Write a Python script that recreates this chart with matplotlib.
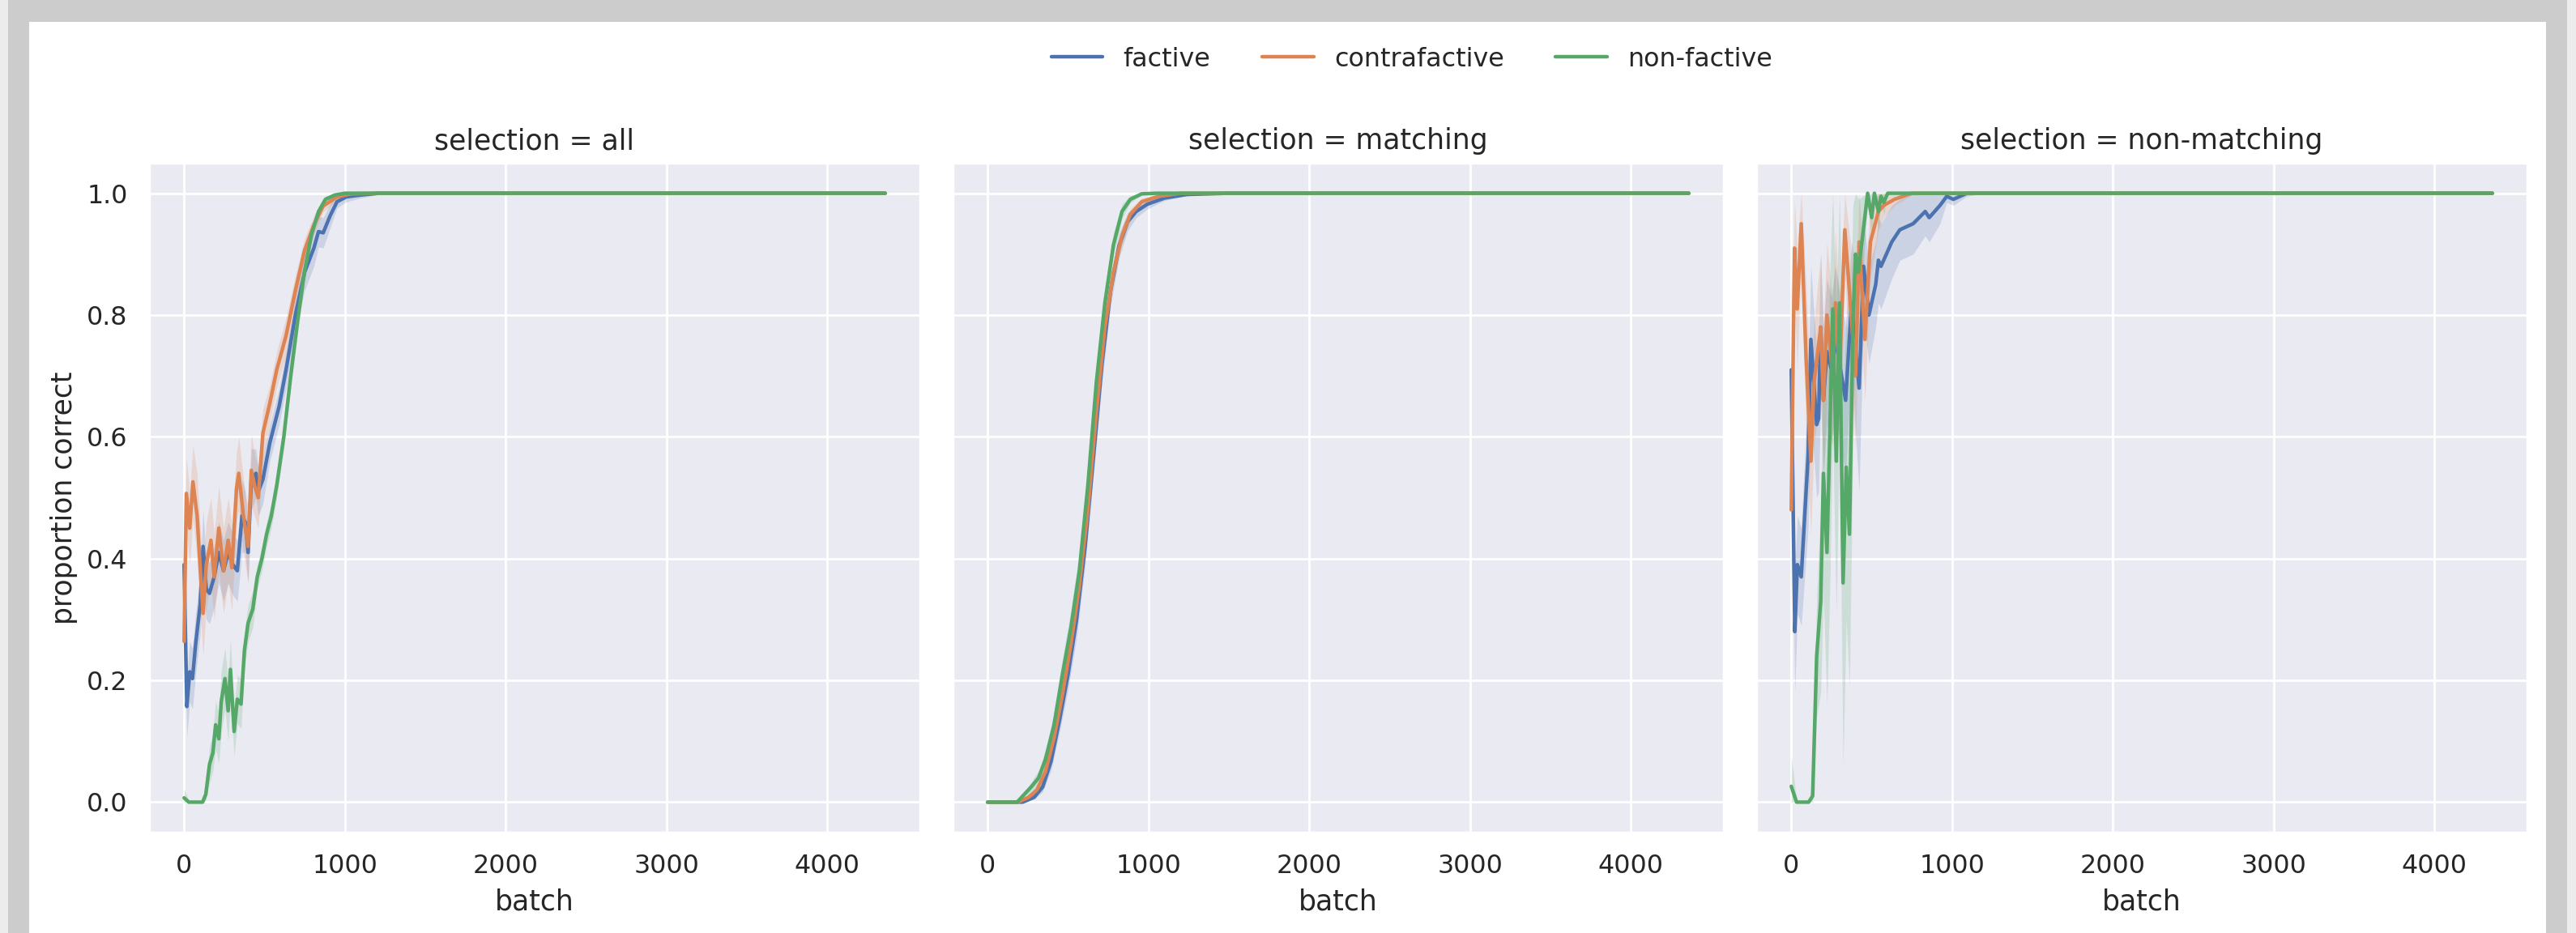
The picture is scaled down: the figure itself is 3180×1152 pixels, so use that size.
import numpy as np
import matplotlib
matplotlib.use("Agg")
import matplotlib.pyplot as plt
import seaborn as sns
from matplotlib.patches import Rectangle, FancyBboxPatch

# ---------------- data ----------------
selections = ["all", "matching", "non-matching"]
conditions = ["factive", "contrafactive", "non-factive"]
colors = ["#4c72b0", "#dd8452", "#55a868"]
xtick_values = [0, 1000, 2000, 3000, 4000]
ytick_values = [0.0, 0.2, 0.4, 0.6, 0.8, 1.0]

# selection = all
all_factive_x = [0, 17, 35, 52, 72, 100, 118, 138, 158, 187, 216, 245, 274, 303, 331, 360, 380, 398, 418, 447,
                 461, 490, 533, 591, 634, 692, 749, 807, 836, 865, 908, 951, 1009, 1095, 1210, 1500, 2000, 3000, 4000, 4360]
all_factive_y = [0.39, 0.157, 0.214, 0.203, 0.26, 0.325, 0.42, 0.35, 0.343, 0.37, 0.41, 0.38, 0.41, 0.39, 0.38, 0.47, 0.46, 0.41, 0.53, 0.54,
                 0.51, 0.53, 0.59, 0.65, 0.71, 0.80, 0.87, 0.91, 0.937, 0.935, 0.963, 0.986, 0.994, 0.997, 1.0, 1.0, 1.0, 1.0, 1.0, 1.0]
all_factive_ci = [0.08, 0.05, 0.05, 0.05, 0.05, 0.05, 0.06, 0.05, 0.05, 0.05, 0.05, 0.05, 0.05, 0.05, 0.05, 0.06, 0.05, 0.05, 0.05, 0.04,
                  0.04, 0.04, 0.03, 0.03, 0.03, 0.03, 0.03, 0.03, 0.025, 0.025, 0.02, 0.01, 0.008, 0.005, 0.002, 0.0, 0.0, 0.0, 0.0, 0.0]

all_contra_x = [0, 14, 35, 55, 81, 101, 118, 138, 167, 187, 216, 245, 274, 297, 326, 340, 369, 398, 418, 438,
                461, 490, 533, 576, 634, 692, 749, 807, 865, 951, 1037, 1200, 1500, 2000, 3000, 4000, 4360]
all_contra_y = [0.264, 0.507, 0.45, 0.526, 0.47, 0.38, 0.31, 0.39, 0.43, 0.37, 0.45, 0.38, 0.43, 0.385, 0.515, 0.54, 0.47, 0.42, 0.545, 0.52,
                0.50, 0.606, 0.655, 0.71, 0.766, 0.84, 0.906, 0.948, 0.979, 0.994, 0.999, 1.0, 1.0, 1.0, 1.0, 1.0, 1.0]
all_contra_ci = [0.12, 0.06, 0.06, 0.06, 0.07, 0.07, 0.07, 0.07, 0.07, 0.07, 0.07, 0.07, 0.07, 0.07, 0.06, 0.06, 0.06, 0.06, 0.06, 0.05,
                 0.05, 0.04, 0.03, 0.03, 0.03, 0.025, 0.02, 0.015, 0.01, 0.005, 0.002, 0.0, 0.0, 0.0, 0.0, 0.0, 0.0]

all_nonf_x = [0, 29, 115, 135, 158, 179, 196, 216, 231, 254, 274, 288, 311, 331, 354, 375, 398, 427, 455, 484,
              513, 542, 576, 620, 663, 706, 749, 793, 836, 879, 937, 1000, 1500, 2000, 3000, 4000, 4360]
all_nonf_y = [0.007, 0.0, 0.0, 0.013, 0.062, 0.081, 0.127, 0.104, 0.165, 0.203, 0.15, 0.218, 0.116, 0.169, 0.161, 0.249, 0.294, 0.317, 0.37, 0.40,
              0.44, 0.47, 0.52, 0.60, 0.70, 0.79, 0.872, 0.933, 0.97, 0.99, 0.997, 1.0, 1.0, 1.0, 1.0, 1.0, 1.0]
all_nonf_ci = [0.015, 0.003, 0.002, 0.01, 0.03, 0.03, 0.04, 0.04, 0.05, 0.05, 0.05, 0.05, 0.04, 0.04, 0.04, 0.03, 0.03, 0.03, 0.02, 0.02,
               0.02, 0.02, 0.02, 0.02, 0.02, 0.02, 0.015, 0.01, 0.008, 0.005, 0.002, 0.0, 0.0, 0.0, 0.0, 0.0, 0.0]

# selection = matching
match_factive_x = [0, 150, 218, 289, 342, 394, 447, 500, 553, 606, 658, 711, 764, 817, 870, 923, 993, 1099, 1239, 1500, 2000, 3000, 4000, 4360]
match_factive_y = [0.0, 0.0, 0.0, 0.008, 0.025, 0.067, 0.135, 0.21, 0.30, 0.42, 0.567, 0.72, 0.84, 0.914, 0.953, 0.97, 0.982, 0.992, 0.998, 1.0, 1.0, 1.0, 1.0, 1.0]
match_factive_ci = [0.0, 0.0, 0.0, 0.003, 0.008, 0.015, 0.02, 0.025, 0.03, 0.03, 0.03, 0.03, 0.025, 0.02, 0.015, 0.01, 0.008, 0.004, 0.002, 0.0, 0.0, 0.0, 0.0, 0.0]

match_contra_x = [0, 150, 190, 254, 306, 359, 412, 465, 518, 570, 623, 676, 729, 782, 835, 887, 958, 1063, 1200, 1500, 2000, 3000, 4000, 4360]
match_contra_y = [0.0, 0.0, 0.0, 0.008, 0.02, 0.05, 0.105, 0.177, 0.26, 0.355, 0.48, 0.64, 0.78, 0.87, 0.93, 0.965, 0.986, 0.995, 1.0, 1.0, 1.0, 1.0, 1.0, 1.0]
match_contra_ci = [0.0, 0.0, 0.0, 0.003, 0.006, 0.012, 0.02, 0.025, 0.03, 0.03, 0.03, 0.03, 0.025, 0.02, 0.015, 0.01, 0.006, 0.003, 0.0, 0.0, 0.0, 0.0, 0.0, 0.0]

match_nonf_x = [0, 150, 183, 225, 271, 317, 359, 412, 465, 518, 570, 623, 676, 729, 782, 835, 887, 958, 1050, 1500, 2000, 3000, 4000, 4360]
match_nonf_y = [0.0, 0.0, 0.0, 0.012, 0.025, 0.04, 0.07, 0.126, 0.21, 0.287, 0.38, 0.52, 0.69, 0.82, 0.915, 0.97, 0.99, 0.999, 1.0, 1.0, 1.0, 1.0, 1.0, 1.0]
match_nonf_ci = [0.0, 0.0, 0.002, 0.005, 0.008, 0.012, 0.015, 0.02, 0.025, 0.03, 0.03, 0.03, 0.03, 0.025, 0.02, 0.012, 0.006, 0.002, 0.0, 0.0, 0.0, 0.0, 0.0, 0.0]

# selection = non-matching
nonm_factive_x = [0, 22, 38, 62, 105, 122, 158, 170, 183, 200, 222, 250, 275, 338, 375, 422, 450, 483, 525, 542,
                  558, 625, 675, 758, 833, 858, 925, 967, 1008, 1092, 1200, 1500, 2000, 3000, 4000, 4360]
nonm_factive_y = [0.71, 0.28, 0.39, 0.37, 0.57, 0.76, 0.62, 0.63, 0.78, 0.66, 0.74, 0.71, 0.76, 0.66, 0.82, 0.68, 0.88, 0.80, 0.85, 0.89,
                  0.88, 0.92, 0.94, 0.95, 0.97, 0.96, 0.98, 0.995, 0.99, 1.0, 1.0, 1.0, 1.0, 1.0, 1.0, 1.0]
nonm_factive_ci = [0.15, 0.1, 0.08, 0.08, 0.12, 0.12, 0.12, 0.12, 0.12, 0.12, 0.12, 0.12, 0.12, 0.12, 0.1, 0.17, 0.08, 0.08, 0.07, 0.07,
                   0.07, 0.06, 0.05, 0.05, 0.04, 0.04, 0.03, 0.01, 0.01, 0.005, 0.0, 0.0, 0.0, 0.0, 0.0, 0.0]

nonm_contra_x = [0, 20, 37, 62, 92, 122, 142, 183, 200, 222, 258, 275, 300, 333, 367, 400, 422, 458, 492, 542,
                 575, 642, 750, 1000, 1500, 2000, 3000, 4000, 4360]
nonm_contra_y = [0.48, 0.91, 0.81, 0.95, 0.73, 0.56, 0.69, 0.78, 0.66, 0.80, 0.70, 0.82, 0.70, 0.94, 0.82, 0.70, 0.92, 0.76, 0.92, 0.97,
                 0.98, 0.99, 1.0, 1.0, 1.0, 1.0, 1.0, 1.0, 1.0]
nonm_contra_ci = [0.2, 0.08, 0.1, 0.06, 0.12, 0.12, 0.1, 0.12, 0.12, 0.12, 0.12, 0.12, 0.12, 0.08, 0.1, 0.12, 0.08, 0.1, 0.06, 0.03,
                  0.02, 0.01, 0.003, 0.0, 0.0, 0.0, 0.0, 0.0, 0.0]

nonm_nonf_x = [0, 33, 108, 133, 158, 183, 200, 222, 242, 258, 280, 300, 322, 342, 362, 383, 400, 417, 475, 500,
               517, 542, 558, 575, 600, 1000, 1500, 2000, 3000, 4000, 4360]
nonm_nonf_y = [0.026, 0.0, 0.0, 0.01, 0.24, 0.33, 0.54, 0.41, 0.63, 0.81, 0.56, 0.82, 0.36, 0.55, 0.44, 0.78, 0.90, 0.87, 1.0, 0.96,
               1.0, 0.97, 0.995, 0.985, 1.0, 1.0, 1.0, 1.0, 1.0, 1.0, 1.0]
nonm_nonf_ci = [0.05, 0.003, 0.003, 0.02, 0.1, 0.15, 0.2, 0.25, 0.25, 0.2, 0.25, 0.2, 0.3, 0.25, 0.25, 0.2, 0.12, 0.12, 0.01, 0.04,
                0.01, 0.03, 0.01, 0.02, 0.0, 0.0, 0.0, 0.0, 0.0, 0.0, 0.0]

panels = {
    "all": [(all_factive_x, all_factive_y, all_factive_ci),
            (all_contra_x, all_contra_y, all_contra_ci),
            (all_nonf_x, all_nonf_y, all_nonf_ci)],
    "matching": [(match_factive_x, match_factive_y, match_factive_ci),
                 (match_contra_x, match_contra_y, match_contra_ci),
                 (match_nonf_x, match_nonf_y, match_nonf_ci)],
    "non-matching": [(nonm_factive_x, nonm_factive_y, nonm_factive_ci),
                     (nonm_contra_x, nonm_contra_y, nonm_contra_ci),
                     (nonm_nonf_x, nonm_nonf_y, nonm_nonf_ci)],
}

# ---------------- figure ----------------
sns.set_theme(style="darkgrid", font_scale=1.04)
W, H = 3180, 1152
fig = plt.figure(figsize=(W / 200, H / 200), dpi=200)
fig.patch.set_facecolor("#ececec")

# screenshot frame (gray border around a white page)
fig.patches.append(FancyBboxPatch((10 / W, -0.05), 3159 / W, 1.2,
                                  boxstyle="round,pad=0,rounding_size=0.012",
                                  transform=fig.transFigure, facecolor="#cccccc", edgecolor="none", zorder=-10))
fig.patches.append(Rectangle((36 / W, 0), (3143 - 36) / W, 1 - 27 / H,
                             transform=fig.transFigure, facecolor="white", edgecolor="none", zorder=-9))

lefts = [184, 1176, 2168]
ax_w, top, bottom = 952, 201, 1028
axes = []
for i, sel in enumerate(selections):
    ax = fig.add_axes([lefts[i] / W, 1 - bottom / H, ax_w / W, (bottom - top) / H])
    axes.append(ax)
    for (x, y, ci), c, lab in zip(panels[sel], colors, conditions):
        x = np.array(x, dtype=float)
        y = np.array(y, dtype=float)
        ci = np.array(ci, dtype=float)
        lo = np.clip(y - ci, 0, 1)
        hi = np.clip(y + ci, 0, 1)
        ax.fill_between(x, lo, hi, color=c, alpha=0.2, linewidth=0)
        ax.plot(x, y, color=c, lw=1.6, label=lab)
    ax.set_xlim(-218, 4578)
    ax.set_ylim(-0.05, 1.05)
    ax.set_xticks(xtick_values)
    ax.set_yticks(ytick_values)
    ax.set_title(f"selection = {sel}")
    ax.set_xlabel("batch")
    if i == 0:
        ax.set_ylabel("proportion correct")
    else:
        ax.tick_params(labelleft=False)

handles, labels = axes[0].get_legend_handles_labels()
fig.legend(handles, labels, loc="center", bbox_to_anchor=(1743 / W, 1 - 73 / H),
           ncol=3, frameon=False)

fig.savefig("out.png", dpi=200, facecolor=fig.get_facecolor())
